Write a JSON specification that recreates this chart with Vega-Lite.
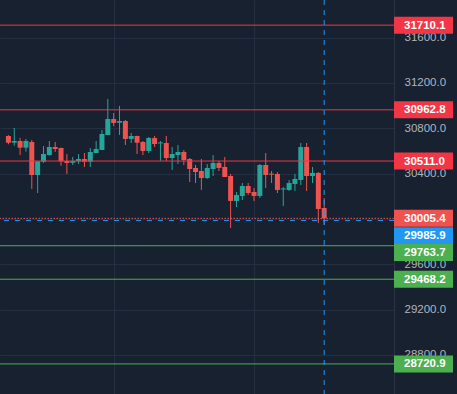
{
  "$schema": "https://vega.github.io/schema/vega-lite/v6.json",
  "width": 394,
  "height": 394,
  "autosize": {"type": "none"},
  "padding": {"left": 0, "top": 0, "right": 63, "bottom": 0},
  "background": "#172130",
  "config": {
    "view": {"stroke": null},
    "axisX": {"labels": false, "ticks": false, "domain": false, "grid": true, "gridColor": "#243041", "gridWidth": 1, "title": null},
    "axisY": {
      "orient": "right",
      "format": ".1f", "ticks": false, "tickSize": 0, "labelPadding": 10,
      "labelAlign": "left", "labelBaseline": "middle",
      "labelColor": "#b2b5be", "labelFont": "Liberation Sans", "labelFontSize": 11.5,
      "labelOverlap": false, "grid": true, "gridColor": "#243041", "gridWidth": 1,
      "domain": true, "domainColor": "#2a3444", "domainWidth": 1, "title": null
    }
  },
  "datasets": {
    "candles": [
      {"bar": 0, "open": 30732, "high": 30740, "low": 30659, "close": 30673},
      {"bar": 1, "open": 30673, "high": 30803, "low": 30646, "close": 30688},
      {"bar": 2, "open": 30688, "high": 30714, "low": 30564, "close": 30629},
      {"bar": 3, "open": 30629, "high": 30706, "low": 30594, "close": 30688},
      {"bar": 4, "open": 30679, "high": 30697, "low": 30264, "close": 30388},
      {"bar": 5, "open": 30388, "high": 30512, "low": 30229, "close": 30509},
      {"bar": 6, "open": 30505, "high": 30644, "low": 30494, "close": 30573},
      {"bar": 7, "open": 30564, "high": 30688, "low": 30558, "close": 30635},
      {"bar": 8, "open": 30635, "high": 30679, "low": 30591, "close": 30617},
      {"bar": 9, "open": 30626, "high": 30630, "low": 30470, "close": 30509},
      {"bar": 10, "open": 30512, "high": 30573, "low": 30397, "close": 30494},
      {"bar": 11, "open": 30496, "high": 30547, "low": 30476, "close": 30512},
      {"bar": 12, "open": 30509, "high": 30573, "low": 30485, "close": 30529},
      {"bar": 13, "open": 30529, "high": 30582, "low": 30459, "close": 30505},
      {"bar": 14, "open": 30505, "high": 30626, "low": 30459, "close": 30591},
      {"bar": 15, "open": 30582, "high": 30688, "low": 30582, "close": 30617},
      {"bar": 16, "open": 30609, "high": 30785, "low": 30609, "close": 30750},
      {"bar": 17, "open": 30741, "high": 31059, "low": 30741, "close": 30882},
      {"bar": 18, "open": 30882, "high": 30935, "low": 30820, "close": 30847},
      {"bar": 19, "open": 30849, "high": 30997, "low": 30741, "close": 30864},
      {"bar": 20, "open": 30864, "high": 30873, "low": 30653, "close": 30706},
      {"bar": 21, "open": 30706, "high": 30759, "low": 30670, "close": 30732},
      {"bar": 22, "open": 30732, "high": 30735, "low": 30573, "close": 30673},
      {"bar": 23, "open": 30679, "high": 30688, "low": 30564, "close": 30600},
      {"bar": 24, "open": 30600, "high": 30723, "low": 30582, "close": 30714},
      {"bar": 25, "open": 30714, "high": 30732, "low": 30635, "close": 30661},
      {"bar": 26, "open": 30666, "high": 30688, "low": 30512, "close": 30675},
      {"bar": 27, "open": 30670, "high": 30732, "low": 30512, "close": 30538},
      {"bar": 28, "open": 30538, "high": 30635, "low": 30432, "close": 30573},
      {"bar": 29, "open": 30564, "high": 30653, "low": 30485, "close": 30591},
      {"bar": 30, "open": 30591, "high": 30609, "low": 30476, "close": 30520},
      {"bar": 31, "open": 30529, "high": 30538, "low": 30326, "close": 30441},
      {"bar": 32, "open": 30450, "high": 30476, "low": 30317, "close": 30414},
      {"bar": 33, "open": 30423, "high": 30529, "low": 30256, "close": 30361},
      {"bar": 34, "open": 30361, "high": 30485, "low": 30353, "close": 30450},
      {"bar": 35, "open": 30441, "high": 30564, "low": 30379, "close": 30494},
      {"bar": 36, "open": 30494, "high": 30512, "low": 30423, "close": 30450},
      {"bar": 37, "open": 30459, "high": 30547, "low": 30370, "close": 30370},
      {"bar": 38, "open": 30379, "high": 30397, "low": 29920, "close": 30159},
      {"bar": 39, "open": 30159, "high": 30238, "low": 30106, "close": 30211},
      {"bar": 40, "open": 30203, "high": 30317, "low": 30167, "close": 30291},
      {"bar": 41, "open": 30291, "high": 30317, "low": 30212, "close": 30229},
      {"bar": 42, "open": 30238, "high": 30273, "low": 30159, "close": 30203},
      {"bar": 43, "open": 30203, "high": 30485, "low": 30185, "close": 30476},
      {"bar": 44, "open": 30476, "high": 30582, "low": 30273, "close": 30388},
      {"bar": 45, "open": 30400, "high": 30423, "low": 30317, "close": 30391},
      {"bar": 46, "open": 30397, "high": 30414, "low": 30229, "close": 30256},
      {"bar": 47, "open": 30260, "high": 30282, "low": 30114, "close": 30269},
      {"bar": 48, "open": 30256, "high": 30344, "low": 30247, "close": 30317},
      {"bar": 49, "open": 30309, "high": 30397, "low": 30247, "close": 30353},
      {"bar": 50, "open": 30344, "high": 30670, "low": 30300, "close": 30635},
      {"bar": 51, "open": 30635, "high": 30670, "low": 30247, "close": 30379},
      {"bar": 52, "open": 30379, "high": 30459, "low": 30317, "close": 30406},
      {"bar": 53, "open": 30406, "high": 30414, "low": 29964, "close": 30088},
      {"bar": 54, "open": 30097, "high": 30185, "low": 29947, "close": 30005.4}
    ],
    "levels": [
      {"price": 31710.1, "kind": "resistance"},
      {"price": 30962.8, "kind": "resistance"},
      {"price": 30511.0, "kind": "resistance"},
      {"price": 30005.4, "kind": "last"},
      {"price": 29985.9, "kind": "mark"},
      {"price": 29763.7, "kind": "support"},
      {"price": 29468.2, "kind": "support"},
      {"price": 28720.9, "kind": "support"}
    ]
  },
  "layer": [
    {
      "data": {"name": "candles"},
      "mark": {"type": "rule", "strokeWidth": 1},
      "encoding": {
        "x": {
          "field": "bar", "type": "quantitative", "title": null,
          "scale": {"domain": [-0.5833, 65.0833], "nice": false, "zero": false},
          "axis": {"values": [18, 42]}
        },
        "y": {
          "field": "low", "type": "quantitative", "title": null,
          "scale": {"domain": [28455.5, 31932], "nice": false, "zero": false},
          "axis": {"values": [28800, 29200, 29600, 30000, 30400, 30800, 31200, 31600]}
        },
        "y2": {"field": "high"},
        "color": {"condition": {"test": "datum.close >= datum.open", "value": "#26a69a"}, "value": "#ef5350"}
      }
    },
    {
      "data": {"name": "candles"},
      "mark": {"type": "bar", "size": 5},
      "encoding": {
        "x": {"field": "bar", "type": "quantitative", "title": null},
        "y": {"field": "open", "type": "quantitative", "title": null},
        "y2": {"field": "close"},
        "color": {"condition": {"test": "datum.close >= datum.open", "value": "#26a69a"}, "value": "#ef5350"}
      }
    },
    {
      "data": {"name": "levels"},
      "mark": {"type": "rule", "strokeWidth": 1},
      "encoding": {
        "y": {"field": "price", "type": "quantitative", "title": null},
        "color": {
          "field": "kind", "type": "nominal", "legend": null,
          "scale": {"domain": ["resistance", "last", "mark", "support"], "range": ["#f23645", "#ef5350", "#2196f3", "#4caf50"]}
        },
        "strokeDash": {
          "field": "kind", "type": "nominal", "legend": null,
          "scale": {"domain": ["resistance", "last", "mark", "support"], "range": [[1, 0], [1.5, 1.5], [5, 6], [1, 0]]}
        }
      }
    },
    {
      "data": {"name": "candles"},
      "transform": [{"filter": "datum.bar == 54"}],
      "mark": {"type": "rule", "strokeWidth": 1, "color": "#2196f3", "strokeDash": [5, 5]},
      "encoding": {
        "x": {"field": "bar", "type": "quantitative", "title": null}
      }
    },
    {
      "data": {"name": "levels"},
      "transform": [{"filter": "datum.kind != 'mark' && datum.price != 29763.7"}],
      "encoding": {
        "y": {"field": "price", "type": "quantitative", "title": null},
        "x": {"value": "width"}
      },
      "layer": [
        {
          "mark": {"type": "point", "shape": "M-1,-0.288L1,-0.288L1,0.288L-1,0.288Z", "size": 3481, "filled": true, "opacity": 1, "strokeWidth": 0, "xOffset": 29.5},
          "encoding": {"color": {"field": "kind", "type": "nominal", "legend": null}}
        },
        {
          "mark": {"type": "text", "align": "left", "baseline": "middle", "xOffset": 10, "dy": 0.5, "color": "#ffffff", "font": "Liberation Sans", "fontSize": 11.5, "fontWeight": "bold"},
          "encoding": {"text": {"field": "price", "type": "quantitative", "format": ".1f"}}
        }
      ]
    },
    {
      "data": {"name": "levels"},
      "transform": [{"filter": "datum.kind == 'mark'"}],
      "encoding": {
        "y": {"field": "price", "type": "quantitative", "title": null},
        "x": {"value": "width"}
      },
      "layer": [
        {
          "mark": {"type": "point", "shape": "M-1,-0.288L1,-0.288L1,0.288L-1,0.288Z", "size": 3481, "filled": true, "opacity": 1, "strokeWidth": 0, "xOffset": 29.5, "yOffset": 15.1},
          "encoding": {"color": {"field": "kind", "type": "nominal", "legend": null}}
        },
        {
          "mark": {"type": "text", "align": "left", "baseline": "middle", "xOffset": 10, "yOffset": 15.1, "dy": 0.5, "color": "#ffffff", "font": "Liberation Sans", "fontSize": 11.5, "fontWeight": "bold"},
          "encoding": {"text": {"field": "price", "type": "quantitative", "format": ".1f"}}
        }
      ]
    },
    {
      "data": {"name": "levels"},
      "transform": [{"filter": "datum.price == 29763.7"}],
      "encoding": {
        "y": {"field": "price", "type": "quantitative", "title": null},
        "x": {"value": "width"}
      },
      "layer": [
        {
          "mark": {"type": "point", "shape": "M-1,-0.288L1,-0.288L1,0.288L-1,0.288Z", "size": 3481, "filled": true, "opacity": 1, "strokeWidth": 0, "xOffset": 29.5, "yOffset": 6.7},
          "encoding": {"color": {"field": "kind", "type": "nominal", "legend": null}}
        },
        {
          "mark": {"type": "text", "align": "left", "baseline": "middle", "xOffset": 10, "yOffset": 6.7, "dy": 0.5, "color": "#ffffff", "font": "Liberation Sans", "fontSize": 11.5, "fontWeight": "bold"},
          "encoding": {"text": {"field": "price", "type": "quantitative", "format": ".1f"}}
        }
      ]
    }
  ]
}
